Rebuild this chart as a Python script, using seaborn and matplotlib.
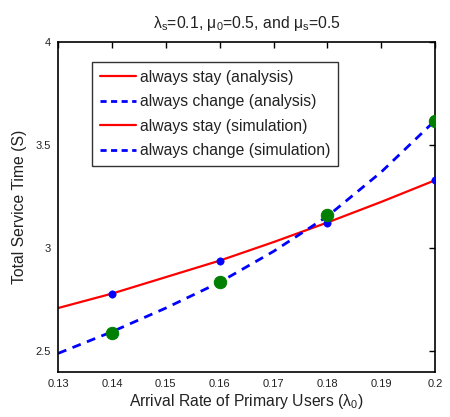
import matplotlib
matplotlib.use("Agg")
import matplotlib.pyplot as plt
import seaborn as sns
import pandas as pd
from matplotlib.lines import Line2D

# Data
x_analysis = [0.13, 0.14, 0.15, 0.16, 0.17, 0.18, 0.19, 0.20]
stay_analysis = [2.71, 2.78, 2.86, 2.94, 3.03, 3.125, 3.225, 3.33]
change_analysis = [2.49, 2.595, 2.71, 2.835, 2.985, 3.155, 3.37, 3.62]
x_sim = [0.14, 0.16, 0.18, 0.20]
stay_sim = [2.78, 2.94, 3.125, 3.33]
change_sim = [2.59, 2.835, 3.16, 3.617]
xticks = [0.13, 0.14, 0.15, 0.16, 0.17, 0.18, 0.19, 0.20]
xticklabels = ["0.13", "0.14", "0.15", "0.16", "0.17", "0.18", "0.19", "0.2"]
yticks = [2.5, 3.0, 3.5, 4.0]
yticklabels = ["2.5", "3", "3.5", "4"]
legend_labels = ["always stay (analysis)", "always change (analysis)",
                 "always stay (simulation)", "always change (simulation)"]

sns.set_style("white")
plt.rcParams['font.family'] = ['Liberation Sans', 'DejaVu Sans']
plt.rcParams['mathtext.fontset'] = 'custom'
plt.rcParams['mathtext.rm'] = 'Liberation Sans'
plt.rcParams['mathtext.it'] = 'Liberation Sans:italic'

fig = plt.figure(figsize=(4.5, 4.17), dpi=100)
ax = fig.add_axes([0.129, 0.108, 0.838, 0.791])

df_a = pd.DataFrame({"x": x_analysis, "stay": stay_analysis, "change": change_analysis})
df_s = pd.DataFrame({"x": x_sim, "stay": stay_sim, "change": change_sim})

sns.lineplot(data=df_a, x="x", y="stay", ax=ax, color="#ff0000", lw=1.6)
sns.lineplot(data=df_a, x="x", y="change", ax=ax, color="#0000ff", lw=2.0,
             dashes=False, linestyle=(0, (3.2, 2.4)))
sns.scatterplot(data=df_s, x="x", y="stay", ax=ax, color="#0000ff", s=28,
                edgecolor="#0000ff", zorder=5)
sns.scatterplot(data=df_s, x="x", y="change", ax=ax, color="#007f00", s=80,
                edgecolor="#007f00", zorder=5)

ax.set_xlim(0.13, 0.20)
ax.set_ylim(2.4, 4.0)
ax.set_xticks(xticks)
ax.set_xticklabels(xticklabels)
ax.set_yticks(yticks)
ax.set_yticklabels(yticklabels)
ax.tick_params(direction="in", top=True, right=True, length=4, width=1,
               labelsize=8, colors="black", pad=5)
for t in ax.get_xticklabels() + ax.get_yticklabels():
    t.set_color("#222222")
for sp in ax.spines.values():
    sp.set_color("black")
    sp.set_linewidth(1.2)
    sp.set_visible(True)

ax.set_xlabel("Arrival Rate of Primary Users (λ$_{\\rm 0}$)", fontsize=11.3, color="#222222", labelpad=2)
ax.set_ylabel("Total Service Time (S)", fontsize=11.3, color="#222222", labelpad=6)
ax.set_title("λ$_{\\rm s}$=0.1, μ$_{\\rm 0}$=0.5, and μ$_{\\rm s}$=0.5", fontsize=11.3,
             color="#222222", pad=10)

handles = [
    Line2D([], [], color="#ff0000", lw=1.6),
    Line2D([], [], color="#0000ff", lw=2.0, linestyle=(0, (2.2, 1.6))),
    Line2D([], [], color="#ff0000", lw=1.6),
    Line2D([], [], color="#0000ff", lw=2.0, linestyle=(0, (2.2, 1.6))),
]
leg = ax.legend(handles, legend_labels, loc="upper left", bbox_to_anchor=(0.09, 0.94),
                fontsize=11.3, frameon=True, fancybox=False, edgecolor="black",
                handlelength=2.3, handletextpad=0.25, borderpad=0.5, labelspacing=0.6,
                borderaxespad=0)
leg.get_frame().set_linewidth(1.0)
for t in leg.get_texts():
    t.set_color("#222222")

fig.savefig("out.png", dpi=100)
